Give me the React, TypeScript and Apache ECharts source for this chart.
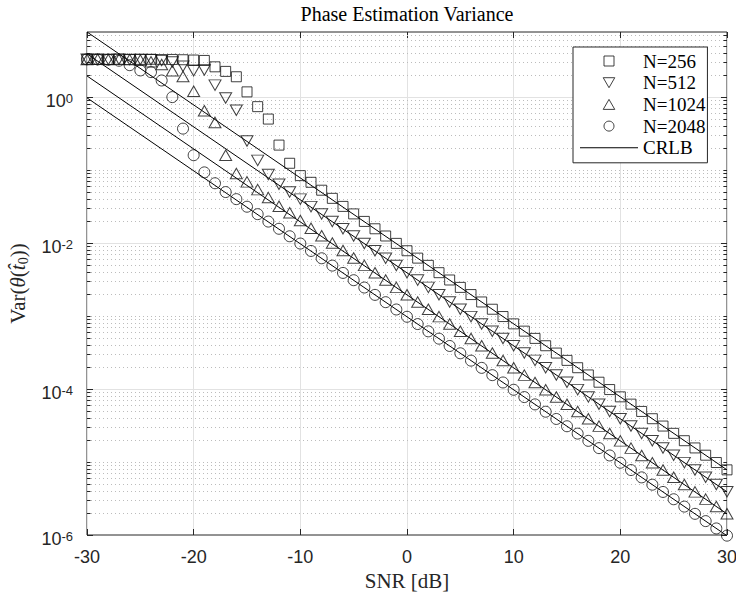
import React, { useEffect, useRef } from 'react';
import * as echarts from 'echarts';

// ---------- data ----------
const snr = [
  -30, -29, -28, -27, -26, -25, -24, -23, -22, -21, -20, -19, -18, -17, -16, -15, -14, -13, -12, -11,
  -10, -9, -8, -7, -6, -5, -4, -3, -2, -1, 0, 1, 2, 3, 4, 5, 6, 7, 8, 9,
  10, 11, 12, 13, 14, 15, 16, 17, 18, 19, 20, 21, 22, 23, 24, 25, 26, 27, 28, 29, 30,
];

const var256 = [
  3.29, 3.31, 3.28, 3.30, 3.27, 3.29, 3.30, 3.26, 3.28, 3.25, 3.22, 3.18, 2.60, 2.25, 1.90, 1.18, 0.74, 0.50, 0.22, 0.124,
  0.084, 0.068, 0.053, 0.041, 0.0318, 0.0251, 0.0198, 0.0157, 0.0125, 0.0099,
  0.00785, 0.00622, 0.00495, 0.00393, 0.00312, 0.00247, 0.00197, 0.00156, 0.00124, 0.000985,
  0.000782, 0.000621, 0.000494, 0.000392, 0.000311, 0.000247, 0.000196, 0.000156, 0.000124, 9.84e-5,
  7.82e-5, 6.21e-5, 4.93e-5, 3.92e-5, 3.11e-5, 2.47e-5, 1.96e-5, 1.56e-5, 1.24e-5, 9.84e-6, 7.81e-6,
];

const var512 = [
  3.30, 3.28, 3.29, 3.31, 3.27, 3.28, 3.25, 3.18, 3.02, 2.65, 2.30, 2.35, 1.46, 0.97, 0.66, 0.25, 0.136, 0.087, 0.064, 0.050,
  0.040, 0.0316, 0.025, 0.0198, 0.0157, 0.0125, 0.00988, 0.00783, 0.00621, 0.00493,
  0.00392, 0.00311, 0.00247, 0.00196, 0.00156, 0.00124, 0.000982, 0.00078, 0.00062, 0.000492,
  0.000391, 0.000311, 0.000247, 0.000196, 0.000156, 0.000124, 9.82e-5, 7.8e-5, 6.19e-5, 4.92e-5,
  3.91e-5, 3.11e-5, 2.46e-5, 1.96e-5, 1.56e-5, 1.24e-5, 9.81e-6, 7.79e-6, 6.19e-6, 4.92e-6, 3.91e-6,
];

const var1024 = [
  3.28, 3.30, 3.27, 3.29, 3.26, 3.22, 3.05, 2.80, 2.30, 1.92, 1.20, 0.65, 0.45, 0.16, 0.090, 0.069, 0.054, 0.042, 0.032, 0.026,
  0.0204, 0.016, 0.0126, 0.0100, 0.00793, 0.00625, 0.00495, 0.00393, 0.00312, 0.00247,
  0.00196, 0.00156, 0.00124, 0.000983, 0.00078, 0.00062, 0.000492, 0.000391, 0.000311, 0.000246,
  0.000196, 0.000155, 0.000123, 9.8e-5, 7.79e-5, 6.18e-5, 4.91e-5, 3.91e-5, 3.1e-5, 2.46e-5,
  1.95e-5, 1.55e-5, 1.23e-5, 9.79e-6, 7.78e-6, 6.18e-6, 4.91e-6, 3.9e-6, 3.1e-6, 2.46e-6, 1.95e-6,
];

const var2048 = [
  3.30, 3.28, 3.26, 3.15, 2.74, 2.32, 2.20, 1.69, 1.00, 0.37, 0.16, 0.093, 0.066, 0.050, 0.040, 0.0315, 0.0249, 0.0197, 0.0157, 0.0124,
  0.00985, 0.0078, 0.00619, 0.00491, 0.0039, 0.0031, 0.00246, 0.00195, 0.00155, 0.00123,
  0.000978, 0.000777, 0.000617, 0.00049, 0.000389, 0.000309, 0.000245, 0.000195, 0.000155, 0.000123,
  9.77e-5, 7.76e-5, 6.16e-5, 4.89e-5, 3.89e-5, 3.09e-5, 2.45e-5, 1.95e-5, 1.55e-5, 1.23e-5,
  9.77e-6, 7.76e-6, 6.16e-6, 4.89e-6, 3.89e-6, 3.09e-6, 2.45e-6, 1.95e-6, 1.55e-6, 1.23e-6, 9.8e-7,
];

// CRLB straight lines (end points at SNR = -30 and 30 dB)
const crlbSnr = [-30, 30];
const crlb256 = [7.81, 7.81e-6];
const crlb512 = [3.91, 3.91e-6];
const crlb1024 = [1.95, 1.95e-6];
const crlb2048 = [0.977, 9.77e-7];

// axes
const xMin = -30;
const xMax = 30;
const xStep = 10;
const yMin = 1e-6;
const yMax = 7.8;
const yMajorTicks = [1e-6, 1e-4, 1e-2, 1];
const yMinorTicks: number[] = [];
for (let k = -6; k <= 0; k++) {
  for (let m = 1; m <= 9; m++) {
    const v = m * Math.pow(10, k);
    if (v > yMax) continue;
    if (m === 1 && k % 2 === 0) continue;
    yMinorTicks.push(v);
  }
}

const SANS = '"Liberation Sans", Arial, Helvetica, sans-serif';
const SERIF = '"Liberation Serif", "Times New Roman", serif';
const AX = '#262626';

export default function App() {
  const ref = useRef<HTMLDivElement>(null);

  useEffect(() => {
    const chart = echarts.init(ref.current!, null, { renderer: 'svg' });
    const pts = (xs: number[], ys: number[]) => xs.map((x, i) => [x, ys[i]]);

    const markerStyle = { color: 'rgba(0,0,0,0)', borderColor: '#111', borderWidth: 1 };
    const scatter = (name: string, ys: number[], symbol: string, size: any, rotate = 0) => ({
      name,
      type: 'scatter',
      data: pts(snr, ys),
      symbol,
      symbolSize: size,
      symbolRotate: rotate,
      itemStyle: markerStyle,
      clip: false,
      silent: true,
      z: 4,
      emphasis: { disabled: true },
    });
    const crlb = (ys: number[]) => ({
      name: 'CRLB',
      type: 'line',
      data: pts(crlbSnr, ys),
      symbol: 'none',
      lineStyle: { color: '#000', width: 1 },
      clip: true,
      silent: true,
      z: 3,
      emphasis: { disabled: true },
    });

    const gridData = [
      ...yMinorTicks.map((v) => [xMin, v, 0]),
      ...yMajorTicks.map((v) => [xMin, v, 1]),
    ];

    const option: any = {
      animation: false,
      backgroundColor: '#fff',
      textStyle: { fontFamily: SANS },
      title: {
        text: 'Phase Estimation Variance',
        left: 407,
        top: 4,
        padding: 0,
        textAlign: 'center',
        textStyle: { fontFamily: SERIF, fontSize: 20, fontWeight: 'normal', color: '#000' },
      },
      grid: {
        left: 87,
        right: 9,
        top: 32,
        bottom: 62,
        show: true,
        borderColor: AX,
        borderWidth: 1,
        backgroundColor: '#fff',
        containLabel: false,
        outerBoundsMode: 'none',
      },
      legend: {
        orient: 'vertical',
        left: 573,
        top: 47,
        padding: [4.5, 2, 5.5, 7],
        backgroundColor: '#fff',
        borderColor: AX,
        borderWidth: 1,
        borderRadius: 0,
        itemWidth: 58,
        itemHeight: 10,
        itemGap: 2.7,
        selectedMode: false,
        symbolKeepAspect: true,
        textStyle: { fontFamily: SERIF, fontSize: 19, color: '#000' },
        itemStyle: { color: 'rgba(0,0,0,0)', borderColor: '#111', borderWidth: 1 },
        data: [
          { name: 'N=256', icon: 'path://M0,0L10,0L10,10L0,10Z' },
          { name: 'N=512', icon: 'path://M0,0L10,0L5,8.66Z' },
          { name: 'N=1024', icon: 'path://M5,0L10,8.66L0,8.66Z' },
          { name: 'N=2048', icon: 'circle' },
          {
            name: 'CRLB',
            icon: 'path://M0,0L100,0L100,1.8L0,1.8Z',
            itemStyle: { color: '#000', borderColor: '#000', borderWidth: 0 },
          },
        ],
      },
      xAxis: [
        {
          type: 'value',
          min: xMin,
          max: xMax,
          interval: xStep,
          name: 'SNR [dB]',
          nameLocation: 'middle',
          nameGap: 33,
          nameTextStyle: { fontFamily: SERIF, fontSize: 21, color: AX },
          axisLine: { show: false },
          axisTick: { show: true, inside: true, length: 6, lineStyle: { color: AX, width: 1 } },
          axisLabel: { fontFamily: SANS, fontSize: 18, color: AX, margin: 13 },
          splitLine: { show: true, lineStyle: { color: '#e2e2e2', width: 1 } },
        },
        {
          type: 'value',
          position: 'top',
          min: xMin,
          max: xMax,
          interval: xStep,
          axisLine: { show: false },
          axisTick: { show: true, inside: true, length: 6, lineStyle: { color: AX, width: 1 } },
          axisLabel: { show: false },
          splitLine: { show: false },
        },
      ],
      yAxis: {
        type: 'log',
        logBase: 10,
        min: yMin,
        max: yMax,
        name: '{n|Var(}{i|θ}{n|(}{i|t̂}{s|0}{n|))}',
        nameLocation: 'middle',
        nameGap: 54,
        nameTextStyle: {
          fontFamily: SERIF,
          fontSize: 21,
          color: AX,
          rich: {
            n: { fontFamily: SERIF, fontSize: 21, color: AX, lineHeight: 26 },
            i: { fontFamily: SERIF, fontSize: 21, color: AX, fontStyle: 'italic', lineHeight: 26 },
            s: { fontFamily: SERIF, fontSize: 14, color: AX, lineHeight: 14, verticalAlign: 'bottom' },
          },
        },
        axisLine: { show: false },
        axisTick: { show: false },
        splitLine: { show: false },
        minorTick: { show: false },
        axisLabel: {
          margin: 14,
          color: AX,
          formatter: (v: number) => {
            const l = Math.log10(v);
            const e = Math.round(l);
            if (Math.abs(l - e) > 1e-6 || e % 2 !== 0) return '';
            return `{b|10}{e|${e}}`;
          },
          rich: {
            b: { fontFamily: SANS, fontSize: 18, color: AX, lineHeight: 20, padding: [8, 0, 0, 0] },
            e: { fontFamily: SANS, fontSize: 13, color: AX, lineHeight: 13, verticalAlign: 'top', padding: [5, 0, 0, 0] },
          },
        },
      },
      series: [
        {
          type: 'custom',
          silent: true,
          z: 1,
          clip: false,
          data: gridData,
          renderItem: (_p: any, api: any) => {
            const y = api.value(1);
            const major = api.value(2) === 1;
            const a = api.coord([xMin, y]);
            const b = api.coord([xMax, y]);
            const py = Math.round(a[1]) + 0.5;
            const x0 = a[0];
            const x1 = b[0];
            const len = major ? 6 : 3.5;
            const children: any[] = [];
            if (!(major && y <= yMin * 1.0001)) {
              children.push({
                type: 'line',
                shape: { x1: x0, y1: py, x2: x1, y2: py },
                style: major
                  ? { stroke: '#e2e2e2', lineWidth: 1 }
                  : { stroke: '#bcbcbc', lineWidth: 1, lineDash: [1, 3] },
              });
            }
            children.push({
              type: 'line',
              shape: { x1: x0, y1: py, x2: x0 + len, y2: py },
              style: { stroke: AX, lineWidth: 1 },
            });
            children.push({
              type: 'line',
              shape: { x1: x1 - len, y1: py, x2: x1, y2: py },
              style: { stroke: AX, lineWidth: 1 },
            });
            return { type: 'group', children };
          },
        },
        crlb(crlb256),
        crlb(crlb512),
        crlb(crlb1024),
        crlb(crlb2048),
        scatter('N=256', var256, 'rect', 10),
        scatter('N=512', var512, 'triangle', [12, 10.5], 180),
        scatter('N=1024', var1024, 'triangle', [12, 10.5]),
        scatter('N=2048', var2048, 'circle', 11),
      ],
    };

    chart.setOption(option);
    return () => chart.dispose();
  }, []);

  return (
    <div
      ref={ref}
      style={{ position: 'fixed', left: 0, top: 0, width: 736, height: 597, background: '#fff' }}
    />
  );
}
